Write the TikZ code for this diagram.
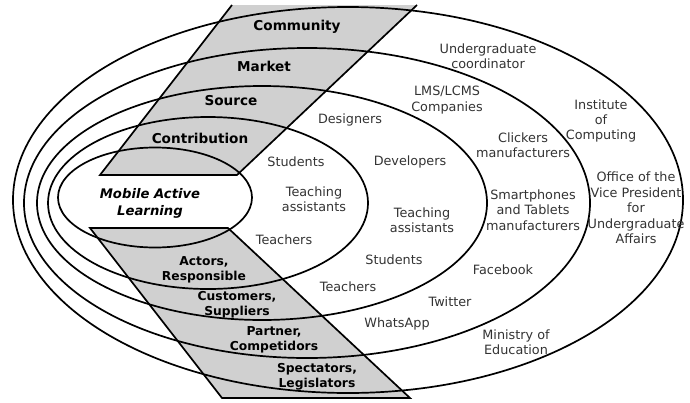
\documentclass[tikz,border=0pt]{standalone}
\usepackage{fontspec}
\setmainfont{DejaVu Sans}
\usepackage{tikz}
\definecolor{bandgray}{HTML}{D0D0D0}
\definecolor{txtgray}{HTML}{333333}

\begin{document}
\begin{tikzpicture}[x=1pt, y=-1pt,
    ring/.style={draw=black, line width=1.7pt},
    band/.style={fill=bandgray, draw=black, line width=1.7pt, line join=miter},
    lbl/.style={text=txtgray, align=center, inner sep=0pt, font=\fontsize{12.8}{15.4}\selectfont},
    cat/.style={text=black, align=center, inner sep=0pt, font=\bfseries\fontsize{13.6}{15}\selectfont},
    role/.style={text=black, align=center, inner sep=0pt, font=\bfseries\fontsize{12.3}{15}\selectfont}]
    \useasboundingbox (0,0) rectangle (690,402);

    % Shaded bands
    \fill[bandgray] (100,175) -- (237,175) -- (417,5) -- (232,5) -- cycle;
    \draw[band, fill=none] (232,5) -- (100,175) -- (237,175) -- (417,5);
    \draw[band] (90,228) -- (228,228) -- (410,398) -- (222,398) -- cycle;

    % Rings
    \draw[ring] (155,197.5) ellipse [x radius=97pt, y radius=50pt];
    \draw[ring] (208,203) ellipse [x radius=160pt, y radius=86pt];
    \draw[ring] (262,203) ellipse [x radius=225pt, y radius=117pt];
    \draw[ring] (307,203) ellipse [x radius=283pt, y radius=155pt];
    \draw[ring] (348,200) ellipse [x radius=335pt, y radius=193pt];

    % Core
    \node[cat, font=\bfseries\itshape\fontsize{13.2}{17}\selectfont] (mal) at (150,203) {Mobile Active\\Learning};

    % Ring titles
    \node[cat] (community) at (297,27) {Community};
    \node[cat] (market) at (264,66) {Market};
    \node[cat] (source) at (231,101) {Source};
    \node[cat] (contribution) at (200,138) {Contribution};

    % Roles
    \node[role] (actors) at (204,270) {Actors,\\Responsible};
    \node[role] (customers) at (237,305) {Customers,\\Suppliers};
    \node[role] (partner) at (274,340) {Partner,\\Competidors};
    \node[role] (spectators) at (317,377) {Spectators,\\Legislators};

    % Contribution ring
    \node[lbl] (students1) at (296,162) {Students};
    \node[lbl] (assist1) at (314,199) {Teaching\\assistants};
    \node[lbl] (teachers1) at (284,240) {Teachers};

    % Source ring
    \node[lbl] (designers) at (350,120) {Designers};
    \node[lbl] (developers) at (410,162) {Developers};
    \node[lbl] (assist2) at (422,220) {Teaching\\assistants};
    \node[lbl] (students2) at (394,260) {Students};
    \node[lbl] (teachers2) at (348,287) {Teachers};

    % Market ring
    \node[lbl] (lms) at (447,100) {LMS/LCMS\\Companies};
    \node[lbl] (clickers) at (523,145) {Clickers\\manufacturers};
    \node[lbl] (smart) at (533,210) {Smartphones\\and Tablets\\manufacturers};
    \node[lbl] (facebook) at (503,270) {Facebook};
    \node[lbl] (twitter) at (450,302) {Twitter};
    \node[lbl] (whatsapp) at (397,324) {WhatsApp};

    % Community ring
    \node[lbl] (coord) at (488,56) {Undergraduate\\coordinator};
    \node[lbl] (institute) at (601,121) {Institute\\of\\Computing};
    \node[lbl] (office) at (636,208) {Office of the\\Vice President\\for\\Undergraduate\\Affairs};
    \node[lbl] (ministry) at (516,342) {Ministry of\\Education};
\end{tikzpicture}
\end{document}
